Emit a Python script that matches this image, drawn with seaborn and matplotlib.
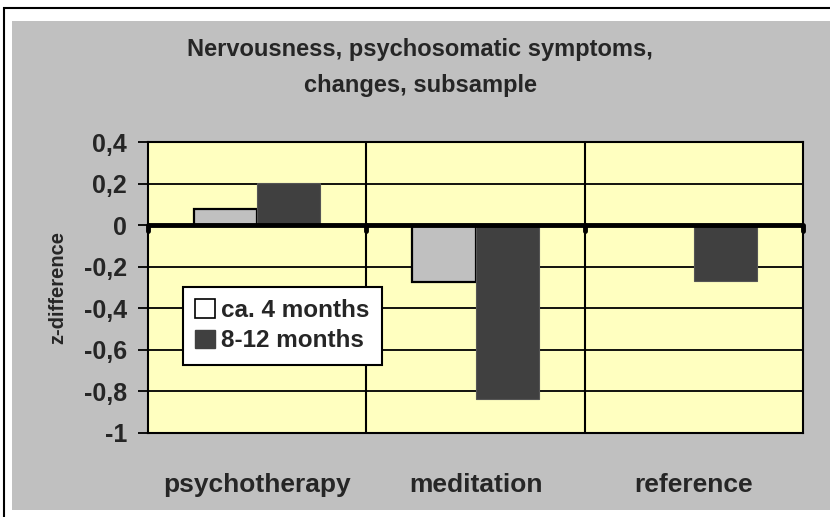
import matplotlib
matplotlib.use("Agg")
import matplotlib.pyplot as plt
import seaborn as sns
import pandas as pd
from matplotlib.patches import Rectangle, Patch

categories = ["psychotherapy", "meditation", "reference"]
series_names = ["ca. 4 months", "8-12 months"]
values_4m = [0.08, -0.275, 0.0]
values_812m = [0.205, -0.835, -0.27]
yticks = [0.4, 0.2, 0, -0.2, -0.4, -0.6, -0.8, -1]
ytick_labels = ["0,4", "0,2", "0", "-0,2", "-0,4", "-0,6", "-0,8", "-1"]

df = pd.DataFrame({
    "category": categories * 2,
    "series": [series_names[0]] * 3 + [series_names[1]] * 3,
    "value": values_4m + values_812m,
})

sns.set_theme(style="white")
plt.rcParams['font.family'] = ['Liberation Sans', 'DejaVu Sans']

W, H = 830, 517
fig = plt.figure(figsize=(W / 100, H / 100), dpi=100)
fig.patch.set_facecolor("white")
# outer border (cut off at right and bottom) and gray chart area
fig.add_artist(Rectangle((4 / W, 1 - 620 / H), 900 / W, 612 / H, transform=fig.transFigure,
                         facecolor="white", edgecolor="black", lw=1.5, zorder=-3))
fig.add_artist(Rectangle((12 / W, 1 - 510 / H), 830 / W, 489 / H, transform=fig.transFigure,
                         facecolor="#C0C0C0", edgecolor="none", zorder=-2))

left, right, top, bottom = 148, 803, 142, 433
ax = fig.add_axes([left / W, 1 - bottom / H, (right - left) / W, (bottom - top) / H])
ax.set_facecolor("#FFFFC0")

palette = {series_names[0]: "#C0C0C0", series_names[1]: "#404040"}
sns.barplot(data=df, x="category", y="value", hue="series", order=categories,
            hue_order=series_names, palette=palette, width=0.58, gap=0,
            saturation=1, ax=ax, legend=False, zorder=3)

for i, cont in enumerate(ax.containers):
    for p in cont:
        if i == 0:
            p.set_edgecolor("black")
            p.set_linewidth(1.6)
        else:
            p.set_edgecolor("#555555")
            p.set_linewidth(0.8)

ax.set_ylim(-1, 0.4)
ax.set_xlim(-0.5, 2.5)
ax.set_yticks(yticks)
ax.set_yticklabels(ytick_labels, fontsize=18, fontweight="bold")
ax.set_xticks([])
for y in yticks:
    if y != 0:
        ax.axhline(y, color="black", lw=1.3, zorder=1)
ax.axhline(0, color="black", lw=3.5, zorder=4)
for x in [0.5, 1.5]:
    ax.axvline(x, color="black", lw=1.5, zorder=1)
for x in [-0.5, 0.5, 1.5, 2.5]:
    ax.plot([x, x], [0, -0.03], color="black", lw=3.5, solid_capstyle="round", zorder=5, clip_on=False)

for s in ax.spines.values():
    s.set_color("black")
    s.set_linewidth(1.5)
ax.tick_params(axis="y", direction="out", length=7.2, width=1.3, color="black", pad=8, left=True)
ax.set_xlabel("")
ax.set_ylabel("z-difference", fontsize=14.5, fontweight="bold")
ax.yaxis.set_label_coords(-0.124, 0.5)

for i, c in enumerate(categories):
    ax.text(i, -1.284, c, ha="center", va="baseline", fontsize=19, fontweight="bold",
            transform=ax.transData, clip_on=False)

fig.text(420 / W, 1 - 56 / H, "Nervousness, psychosomatic symptoms,", ha="center", va="baseline",
         fontsize=17, fontweight="bold")
fig.text(420 / W, 1 - 92 / H, "changes, subsample", ha="center", va="baseline",
         fontsize=17, fontweight="bold")

handles = [Patch(facecolor="white", edgecolor="black", lw=1.2, label=series_names[0]),
           Patch(facecolor="#404040", edgecolor="#404040", label=series_names[1])]
leg = ax.legend(handles=handles, loc="upper left", bbox_to_anchor=(0.0534, 0.5017),
                frameon=True, fancybox=False, prop={"size": 17.5, "weight": "bold"},
                handlelength=0.82, handleheight=0.82, handletextpad=0.25,
                borderpad=0.5, labelspacing=0.3, borderaxespad=0)
leg.get_frame().set_edgecolor("black")
leg.get_frame().set_linewidth(1.5)
leg.get_frame().set_facecolor("white")
leg.get_frame().set_alpha(1)
leg.set_zorder(10)

fig.savefig("out.png", dpi=100)
